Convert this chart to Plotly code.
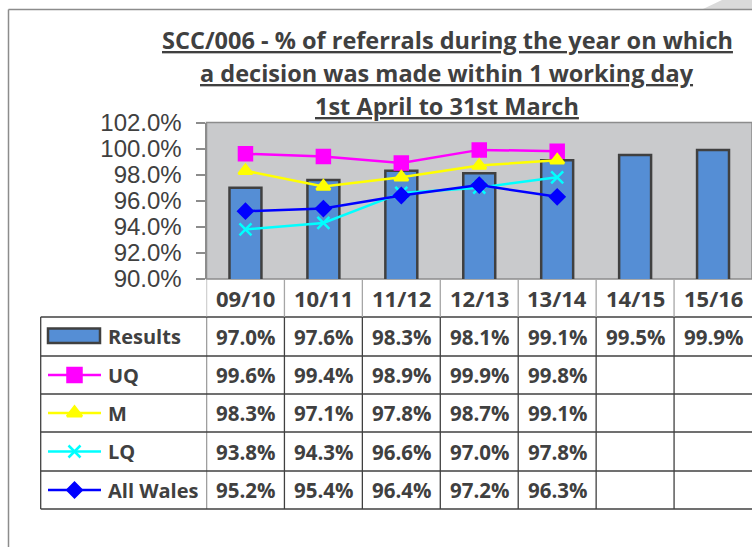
import plotly.graph_objects as go

# ---------------- data ----------------
years = ["09/10", "10/11", "11/12", "12/13", "13/14", "14/15", "15/16"]
results = [97.0, 97.6, 98.3, 98.1, 99.1, 99.5, 99.9]
uq = [99.6, 99.4, 98.9, 99.9, 99.8]
m = [98.3, 97.1, 97.8, 98.7, 99.1]
lq = [93.8, 94.3, 96.6, 97.0, 97.8]
all_wales = [95.2, 95.4, 96.4, 97.2, 96.3]
y_ticks = [90, 92, 94, 96, 98, 100, 102]
title_lines = ["SCC/006 - % of referrals during the year on which",
               "a decision was made within 1 working day",
               "1st April to 31st March"]

W, H = 752, 547
def px(x): return x / W
def py(y): return 1 - y / H

TXT = "#404040"
BAR = "#558ED5"
series = [
    ("Results", results, None, None),
    ("UQ", uq, "#FF00FF", "square"),
    ("M", m, "#FFFF00", "triangle-up"),
    ("LQ", lq, "#00FFFF", "x-thin"),
    ("All Wales", all_wales, "#0000FF", "diamond"),
]
msize = {"square": 13, "triangle-up": 12, "x-thin": 12, "diamond": 11}
lsize = {"square": 14, "triangle-up": 13, "x-thin": 12, "diamond": 11}

fig = go.Figure()
fig.add_trace(go.Bar(x=years, y=results, width=0.41, marker=dict(color=BAR, line=dict(color="#404040", width=2.5)),
                     showlegend=False, hoverinfo="skip"))
for name, vals, col, sym in series[1:]:
    fig.add_trace(go.Scatter(x=years[:len(vals)], y=vals, mode="lines+markers", name=name,
                             line=dict(color=col, width=2.5),
                             marker=dict(symbol=sym, size=msize[sym], color=col,
                                         line=dict(color=col, width=2.5)),
                             showlegend=False))

# legend-key subplot (pixel space over whole figure)
row_tops = [279, 317, 356, 394, 432, 471, 509]
leg_x0, leg_x1 = 48, 101
for i, (name, vals, col, sym) in enumerate(series):
    cy = (row_tops[i + 1] + row_tops[i + 2]) / 2
    if sym is not None:
        fig.add_trace(go.Scatter(x=[leg_x0, leg_x1], y=[cy, cy], mode="lines", line=dict(color=col, width=2.5),
                                 xaxis="x2", yaxis="y2", showlegend=False, hoverinfo="skip"))
        fig.add_trace(go.Scatter(x=[(leg_x0 + leg_x1) / 2], y=[cy], mode="markers",
                                 marker=dict(symbol=sym, size=lsize[sym], color=col, line=dict(color=col, width=2.5)),
                                 xaxis="x2", yaxis="y2", showlegend=False, hoverinfo="skip"))

shapes = []
annos = []
# outer chart border + corner shadow
shapes.append(dict(type="path", xref="paper", yref="paper",
                   path=f"M {px(703)} {py(9)} L {px(722)} {py(0)} L {px(752)} {py(0)} L {px(752)} {py(9)} Z",
                   fillcolor="#DADADA", line=dict(width=0), layer="below"))
shapes.append(dict(type="line", xref="paper", yref="paper", x0=px(8.5), x1=px(752), y0=py(9.5), y1=py(9.5),
                   line=dict(color="#8C8C8C", width=1.5)))
shapes.append(dict(type="line", xref="paper", yref="paper", x0=px(8.5), x1=px(8.5), y0=py(9.5), y1=0,
                   line=dict(color="#8C8C8C", width=1.5)))
# plot area background
shapes.append(dict(type="rect", xref="paper", yref="paper", x0=px(206.5), x1=1, y0=py(279), y1=py(122.5),
                   fillcolor="#C9CACC", line=dict(color="#8C8C8C", width=1.5), layer="below"))

# table grid
GRID = "#404040"
for yy in row_tops[1:]:
    shapes.append(dict(type="line", xref="paper", yref="paper", x0=px(40.7), x1=1, y0=py(yy), y1=py(yy),
                       line=dict(color=GRID, width=1.3)))
shapes.append(dict(type="line", xref="paper", yref="paper", x0=px(40.7), x1=px(40.7), y0=py(317), y1=py(509),
                   line=dict(color=GRID, width=1.3)))
for i in range(len(years)):
    shapes.append(dict(type="line", xref="x", yref="paper", x0=i - 0.5, x1=i - 0.5, y0=py(279), y1=py(317),
                       line=dict(color="#A6A6A6", width=1.3)))
    shapes.append(dict(type="line", xref="x", yref="paper", x0=i - 0.5, x1=i - 0.5, y0=py(317), y1=py(509),
                       line=dict(color=GRID, width=1.3)))

# results legend rectangle
shapes.append(dict(type="rect", xref="paper", yref="paper", x0=px(48), x1=px(100), y0=py(343), y1=py(328.5),
                   fillcolor=BAR, line=dict(color="#404040", width=2.5)))

FONT_T = "Open Sans"
# header labels
for yr in years:
    annos.append(dict(x=yr, xref="x", y=py(298), yref="paper", text=f"<b>{yr}</b>", showarrow=False,
                      font=dict(family=FONT_T, size=22, color=TXT), xanchor="center", yanchor="middle"))
# row labels & values
for i, (name, vals, col, sym) in enumerate(series):
    cy = (row_tops[i + 1] + row_tops[i + 2]) / 2
    annos.append(dict(x=px(106), xref="paper", y=py(cy), yref="paper", text=f"<b>{name}</b>", showarrow=False,
                      font=dict(family=FONT_T, size=20, color=TXT), xanchor="left", yanchor="middle"))
    for yr, v in zip(years, vals):
        annos.append(dict(x=yr, xref="x", y=py(cy), yref="paper", text=f"<b>{v:.1f}%</b>", showarrow=False,
                          font=dict(family=FONT_T, size=20.5, color=TXT), xanchor="center", yanchor="middle"))

# title
for t, cy in zip(title_lines, [40, 73, 106]):
    annos.append(dict(x=px(447), xref="paper", y=py(cy), yref="paper", text=f"<u><b>{t}</b></u>", showarrow=False,
                      font=dict(family=FONT_T, size=23.5, color=TXT), xanchor="center", yanchor="middle"))

fig.update_layout(
    width=W, height=H, autosize=False,
    margin=dict(l=0, r=0, t=0, b=0, pad=0, autoexpand=False),
    paper_bgcolor="white", plot_bgcolor="rgba(0,0,0,0)",
    bargap=0.59,
    xaxis=dict(domain=[px(206.5), 1], range=[-0.5, 6.5], type="category", showticklabels=False,
               showgrid=False, zeroline=False, ticks="", automargin=False),
    yaxis=dict(domain=[py(279), py(122.5)], range=[90, 102], tickvals=y_ticks,
               ticktext=[f"{v:.1f}%" for v in y_ticks], showgrid=False, zeroline=False,
               ticks="outside", ticklen=9, tickcolor="#8C8C8C", tickwidth=1.5, ticklabelstandoff=9,
               showline=True, linecolor="#8C8C8C", linewidth=2, automargin=False,
               tickfont=dict(family="Liberation Sans", size=24, color=TXT)),
    xaxis2=dict(domain=[0, 1], range=[0, W], visible=False, anchor="y2", automargin=False),
    yaxis2=dict(domain=[0, 1], range=[H, 0], visible=False, anchor="x2", automargin=False),
    shapes=shapes, annotations=annos,
)
post = ("document.body.style.margin='0';document.body.style.overflow='hidden';"
        "var gd=document.getElementById('{plot_id}');gd.style.position='fixed';gd.style.top='0';gd.style.left='0';")
fig.write_html("out.html", post_script=post, config={"displayModeBar": False})
